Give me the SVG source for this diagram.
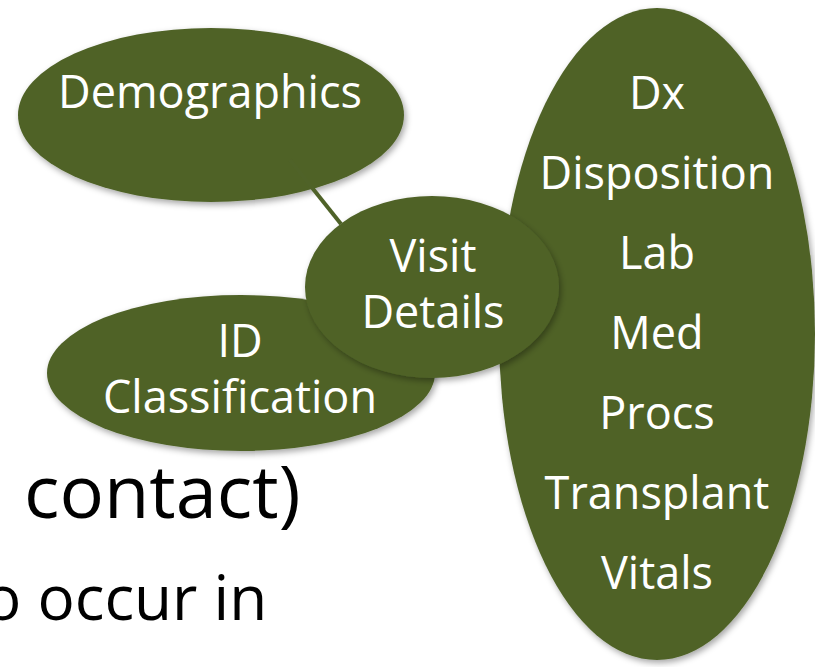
<svg xmlns="http://www.w3.org/2000/svg" width="815" height="667" viewBox="0 0 815 667">
<defs>
<filter id="sh" x="-10%" y="-10%" width="125%" height="125%">
<feDropShadow dx="2" dy="3" stdDeviation="3" flood-color="#000" flood-opacity="0.35"/>
</filter>
<style>
.n{fill:#4f6228;filter:url(#sh);}
.t{font-family:"Open Sans","Noto Sans",sans-serif;font-size:45px;fill:#ffffff;text-anchor:middle;}
.b{font-family:"Open Sans","Noto Sans",sans-serif;fill:#000000;}
.c{stroke:#4f6228;stroke-width:4;fill:none;}
</style>
</defs>
<rect width="815" height="667" fill="#ffffff"/>
<text class="b" x="24" y="518" font-size="74">contact)</text>
<text class="b" x="-16" y="620" font-size="62">o occur in</text>
<g id="demographics">
<ellipse class="n" cx="211" cy="115" rx="193" ry="87"/>
<text class="t" x="210" y="108">Demographics</text>
</g>
<g id="connectors">
<line class="c" x1="290" y1="160" x2="341" y2="224"/>
</g>
<g id="id-classification">
<ellipse class="n" cx="241" cy="373" rx="194" ry="78"/>
<text class="t" x="240" y="357">ID</text>
<text class="t" x="240" y="413">Classification</text>
</g>
<g id="visit-list">
<ellipse class="n" cx="657" cy="334" rx="158" ry="326"/>
<text class="t" x="657" y="109">Dx</text>
<text class="t" x="657" y="189">Disposition</text>
<text class="t" x="657" y="269">Lab</text>
<text class="t" x="657" y="349">Med</text>
<text class="t" x="657" y="429">Procs</text>
<text class="t" x="657" y="509">Transplant</text>
<text class="t" x="657" y="589">Vitals</text>
</g>
<g id="visit-details">
<ellipse class="n" cx="432" cy="287" rx="127" ry="91"/>
<text class="t" x="433" y="272">Visit</text>
<text class="t" x="433" y="328">Details</text>
</g>
</svg>
